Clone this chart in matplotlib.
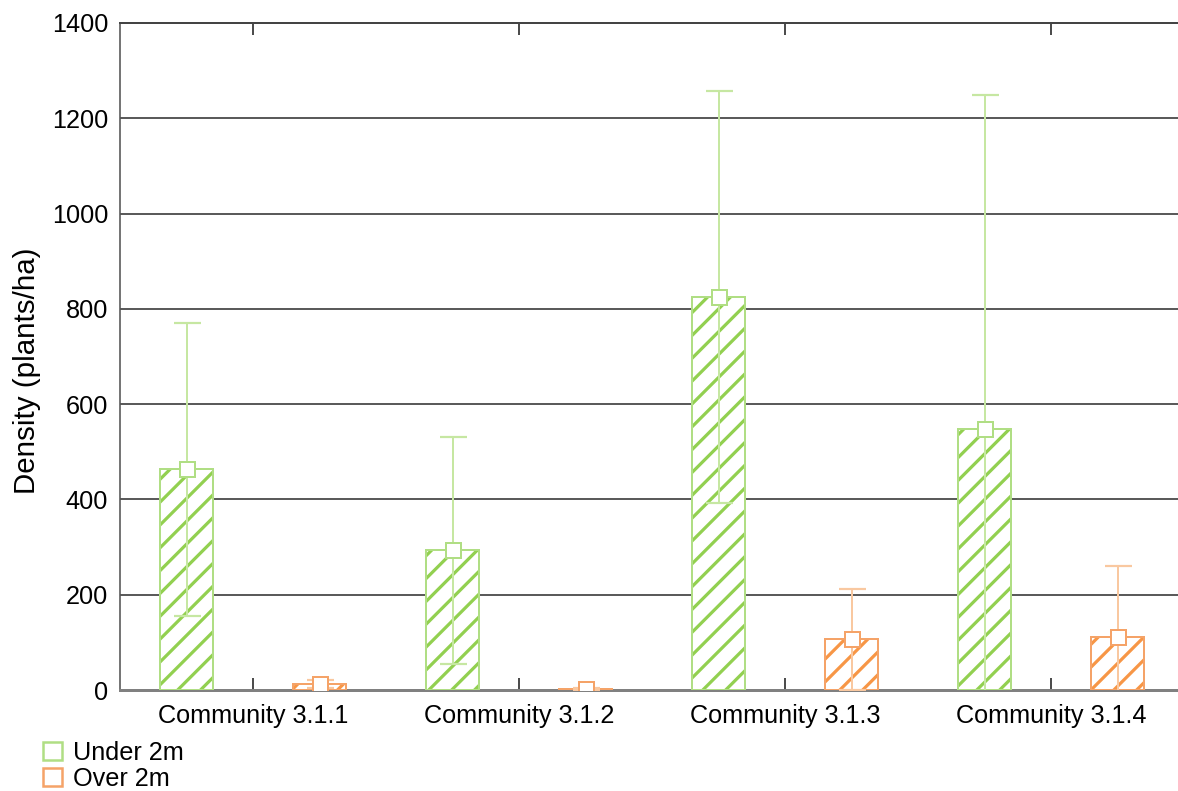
import matplotlib
matplotlib.use('Agg')
import matplotlib.pyplot as plt
from matplotlib.patches import Patch
import numpy as np

categories = ['Community 3.1.1', 'Community 3.1.2', 'Community 3.1.3', 'Community 3.1.4']
under_mean = [463, 293, 825, 548]
under_err = [308, 238, 432, 701]
over_mean = [12, 2, 106, 111]
over_err = [8, 3, 107, 150]
series_labels = ['Under 2m', 'Over 2m']
yticks = [0, 200, 400, 600, 800, 1000, 1200, 1400]

DPI = 137
W, H = 1178, 791
def px(p):
    return p * 72.0 / DPI

plt.rcParams['font.family'] = ['Liberation Sans', 'DejaVu Sans']
plt.rcParams['hatch.linewidth'] = px(3.2)

FS = 13.3

fig = plt.figure(figsize=(W / DPI, H / DPI), dpi=DPI)
ax = fig.add_axes([120 / W, 1 - 690 / H, (1184 - 120) / W, (690 - 23) / H])

x = np.arange(len(categories))
off = 0.25
bw = 0.2

styles = [
    dict(hatch='#92d050', edge='#b0de84', err='#c6e7a2'),
    dict(hatch='#f79646', edge='#f5a368', err='#f9c8a0'),
]
means = [under_mean, over_mean]
errs = [under_err, over_err]

for k, (m, e, st) in enumerate(zip(means, errs, styles)):
    xs = x + (-off if k == 0 else off)
    ax.bar(xs, m, width=bw, facecolor='white', edgecolor=st['hatch'], hatch='//',
           linewidth=0, zorder=3)
    ax.bar(xs, m, width=bw, facecolor='none', edgecolor=st['edge'],
           linewidth=px(2), zorder=4)
    ax.errorbar(xs, m, yerr=e, fmt='none', ecolor=st['err'], elinewidth=px(2),
                capsize=px(13.5), capthick=px(2.2), zorder=5)
    ax.plot(xs, m, linestyle='none', marker='s', markersize=px(15),
            markerfacecolor='white', markeredgecolor=st['edge'],
            markeredgewidth=px(2), zorder=6)

ax.set_xlim(-0.5, len(categories) - 0.5)
ax.set_ylim(0, 1400)
ax.set_yticks(yticks)
ax.set_yticklabels([str(v) for v in yticks])
ax.set_xticks(x)
ax.set_xticklabels(categories)

ax.yaxis.grid(True, color='#333333', linewidth=px(1.6), zorder=0)
ax.set_axisbelow(True)

ax.tick_params(axis='y', length=0, pad=px(12), labelsize=FS, colors='black')
ax.tick_params(axis='x', direction='in', length=px(12), width=px(1.6),
               pad=px(14), labelsize=FS, top=True, bottom=True, color='#222222')

ax.spines['left'].set_color('#555555')
ax.spines['left'].set_linewidth(px(1.6))
ax.spines['top'].set_color('#444444')
ax.spines['top'].set_linewidth(px(2))
ax.spines['bottom'].set_color('#808080')
ax.spines['bottom'].set_linewidth(px(3))
ax.spines['right'].set_visible(False)

ax.set_ylabel('Density (plants/ha)', fontsize=15.5)
ax.yaxis.set_label_coords(-(120 - 41) / (1184 - 120), (690 - 371) / (690 - 23))

handles = [Patch(facecolor='white', edgecolor=styles[0]['edge'], linewidth=px(2.5)),
           Patch(facecolor='white', edgecolor=styles[1]['edge'], linewidth=px(2.5))]
fig.legend(handles, series_labels, loc='upper left',
           bbox_to_anchor=(43 / W, 1 - 741 / H), frameon=False,
           fontsize=FS, handlelength=0.75, handleheight=0.75,
           handletextpad=0.45, labelspacing=0.08, borderaxespad=0,
           borderpad=0)

fig.savefig('out.png', dpi=DPI)
